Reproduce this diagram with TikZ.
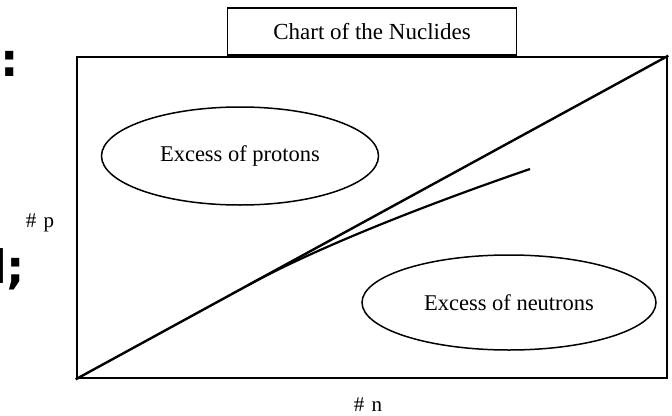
\documentclass[tikz,border=0pt]{standalone}
\usepackage{fontspec}
\setmainfont{Liberation Serif}
\newfontfamily\fragfont{DejaVu Sans}
\usetikzlibrary{shapes.geometric}
\tikzset{
  framebox/.style={draw, line width=2.6pt, inner sep=0pt, minimum width=590pt, minimum height=321pt},
  titlebox/.style={draw, line width=1.5pt, inner sep=0pt, minimum width=289pt, minimum height=47pt, font=\fontsize{23}{27}\selectfont},
  region/.style={draw, ellipse, line width=1.5pt, inner sep=0pt, font=\fontsize{22.5}{27}\selectfont},
  axislabel/.style={inner sep=0pt, font=\fontsize{21}{25}\selectfont},
  frag/.style={inner sep=0pt, anchor=base, font=\fragfont\bfseries\fontsize{46}{50}\selectfont},
  curveline/.style={line width=2.2pt}
}
\begin{document}
\begin{tikzpicture}[x=1pt,y=-1pt]
\useasboundingbox (0,0) rectangle (672,415);
\clip (0,0) rectangle (672,415);
\node[framebox] (frame) at (372,217.5) {};
\node[titlebox, anchor=south] (title) at (frame.north) {Chart of the Nuclides};
\draw[curveline, line width=2.4pt] (frame.south west) -- (frame.north east);
\path (frame.south west) -- (frame.north east)
  coordinate[pos=0.29] (c0) coordinate[pos=0.43] (c1);
\coordinate (c2) at (460,193);
\coordinate (cend) at (530,169);
\draw[curveline] (c0) .. controls (c1) and (c2) .. (cend);
\node[region, minimum width=277pt, minimum height=98pt] (prot) at (240,156) {Excess of protons};
\node[region, minimum width=294pt, minimum height=95pt] (neut) at (509,302.5) {Excess of neutrons};
\node[axislabel, anchor=base] (np) at (40,227) {\#\hspace{0.35em}p};
\node[axislabel, anchor=base] (nn) at (368,411) {\#\hspace{0.35em}n};
\node[frag, anchor=base west] (fragA) at (0,76) {:};
\node[frag, anchor=base west] (fragB) at (-9,283) {l;};
\end{tikzpicture}
\end{document}
